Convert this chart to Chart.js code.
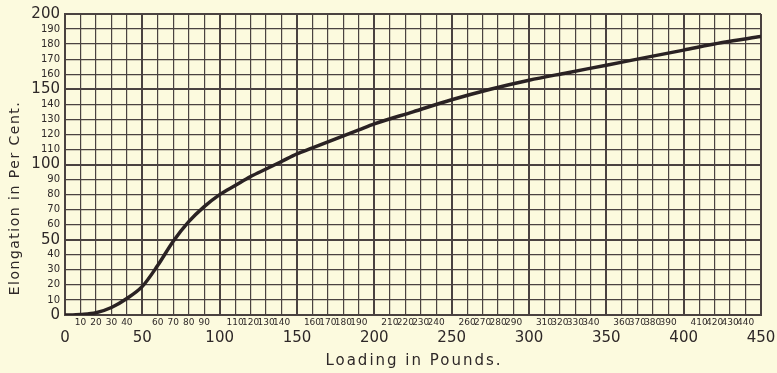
<!DOCTYPE html>
<html>
<head>
<meta charset="utf-8">
<script src="https://cdn.jsdelivr.net/npm/chart.js@4/dist/chart.umd.min.js"></script>
<style>
  html, body { margin: 0; padding: 0; background: #fcfade; }
  #wrap { width: 777px; height: 373px; }
</style>
</head>
<body>
<div id="wrap"><canvas id="elongation-chart" width="777" height="373"></canvas></div>
<script>
// readings off the plate (load in pounds -> elongation %)
const loads = [0, 5, 10, 20, 30, 40, 50, 60, 70, 80, 90, 100, 110, 120, 130, 140, 150,
  160, 170, 180, 190, 200, 225, 250, 275, 300, 325, 350, 375, 400, 425, 450];
const elongation = [0, 0, 0.3, 1.5, 5, 11, 19, 33, 49, 62, 72, 80, 86, 92, 97, 102, 107,
  111, 115, 119, 123, 127, 135, 143, 150, 156, 161, 166, 171, 176, 181, 185];

// tick labels
const xMajorLabels = [0, 50, 100, 150, 200, 250, 300, 350, 400, 450];
const xMinorLabels = [10, 20, 30, 40, 60, 70, 80, 90, 110, 120, 130, 140, 160, 170, 180, 190,
  210, 220, 230, 240, 260, 270, 280, 290, 310, 320, 330, 340, 360, 370, 380, 390,
  410, 420, 430, 440];
const yLabels = [0, 10, 20, 30, 40, 50, 60, 70, 80, 90, 100, 110, 120, 130, 140, 150,
  160, 170, 180, 190, 200];
const yMajorLabels = [0, 50, 100, 150, 200];

const xTitle = "Loading in Pounds.";
const yTitle = "Elongation in Per Cent.";

const ink = "#2e2828";
const gridInk = "#4a4240";
const fontFamily = '"DejaVu Sans", "Noto Sans", sans-serif';

const gridWidth = (ctx) => (ctx.tick && ctx.tick.value % 50 === 0 ? 2 : 1.2);

// hand-lettered axis titles
const axisTitles = {
  id: "axisTitles",
  afterDraw(chart) {
    const { ctx, chartArea } = chart;
    ctx.save();
    ctx.fillStyle = ink;
    ctx.textAlign = "center";
    ctx.textBaseline = "middle";
    ctx.font = "15px " + fontFamily;
    ctx.letterSpacing = "2px";
    ctx.fillText(xTitle, (chartArea.left + chartArea.right) / 2 + 1, 361);
    ctx.translate(15, 198);
    ctx.rotate(-Math.PI / 2);
    ctx.font = "14px " + fontFamily;
    ctx.letterSpacing = "1.5px";
    ctx.fillText(yTitle, 0, 0);
    ctx.restore();
  },
};

new Chart(document.getElementById("elongation-chart"), {
  type: "line",
  data: {
    datasets: [
      {
        data: loads.map((x, i) => ({ x, y: elongation[i] })),
        borderColor: "#2a2223",
        borderWidth: 3.5,
        pointRadius: 0,
        cubicInterpolationMode: "monotone",
        fill: false,
        xAxisID: "x",
        yAxisID: "y",
      },
    ],
  },
  options: {
    responsive: false,
    animation: false,
    devicePixelRatio: 1,
    layout: { padding: { left: 0, right: 16, top: 10, bottom: 0 } },
    plugins: { legend: { display: false }, tooltip: { enabled: false } },
    scales: {
      y: {
        min: 0,
        max: 200,
        afterFit: (s) => { s.width = 65; },
        ticks: {
          stepSize: 10,
          autoSkip: false,
          padding: 5,
          color: ink,
          callback: (v) => (yLabels.includes(v) ? String(v) : null),
          font: (ctx) => ({
            family: fontFamily,
            size: ctx.tick && yMajorLabels.includes(ctx.tick.value) ? 15 : 10,
          }),
        },
        grid: { color: gridInk, lineWidth: gridWidth, drawTicks: false },
        border: { color: gridInk, width: 2 },
      },
      x: {
        type: "linear",
        position: "bottom",
        weight: 0,
        min: 0,
        max: 450,
        afterFit: (s) => { s.height = 14; },
        ticks: {
          stepSize: 10,
          autoSkip: false,
          maxRotation: 0,
          padding: 2,
          color: ink,
          font: { family: fontFamily, size: 9 },
          callback: (v) => (xMinorLabels.includes(v) ? String(v) : ""),
        },
        grid: { color: gridInk, lineWidth: gridWidth, drawTicks: false },
        border: { color: gridInk, width: 2 },
      },
      x2: {
        type: "linear",
        position: "bottom",
        weight: 1,
        min: 0,
        max: 450,
        afterFit: (s) => { s.height = 44; },
        ticks: {
          stepSize: 50,
          autoSkip: false,
          maxRotation: 0,
          padding: 0,
          color: ink,
          font: { family: fontFamily, size: 15 },
          callback: (v) => (xMajorLabels.includes(v) ? String(v) : ""),
        },
        grid: { display: false, drawTicks: false },
        border: { display: false },
      },
    },
  },
  plugins: [axisTitles],
});
</script>
</body>
</html>
